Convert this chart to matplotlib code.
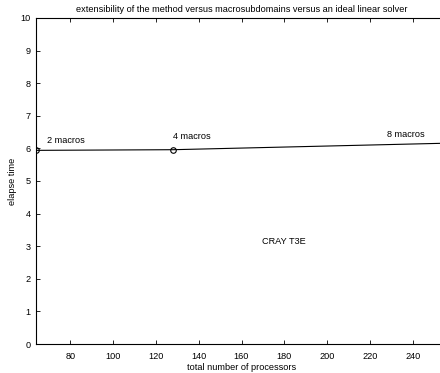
import numpy as np
import matplotlib
matplotlib.use("Agg")
import matplotlib.pyplot as plt

plt.rcParams['font.family'] = ['Liberation Sans', 'DejaVu Sans']

# data
procs = [64, 128, 256]
elapse = [5.94, 5.96, 6.16]
labels = ["2 macros", "4 macros", "8 macros"]
label_pos = [(69, 6.1), (128, 6.22), (228, 6.28)]
xticks = np.arange(80, 241, 20)
yticks = np.arange(0, 11, 1)

fig = plt.figure(figsize=(4.4, 3.73), dpi=100)
ax = fig.add_axes([36 / 440, 1 - 344 / 373, 411 / 440, 326 / 373])

ax.plot(procs, elapse, color='black', linewidth=0.8)
ax.plot(procs[:2], elapse[:2], 'o', mfc='none', mec='black', ms=4, mew=0.8)

for lab, (x, y) in zip(labels, label_pos):
    ax.text(x, y, lab, fontsize=6.6, ha='left', va='bottom')
ax.text(180, 3.15, "CRAY T3E", fontsize=6.6, ha='center', va='center')

ax.set_xlim(64, 256)
ax.set_ylim(0, 10)
ax.set_xticks(xticks)
ax.set_yticks(yticks)
ax.tick_params(direction='in', top=True, right=True, labelsize=6.6, length=3, width=0.6)
ax.tick_params(axis='x', pad=6)
ax.tick_params(axis='y', pad=4)
for s in ax.spines.values():
    s.set_linewidth(0.8)

ax.set_xlabel("total number of processors", fontsize=6.6, labelpad=1)
ax.set_ylabel("elapse time", fontsize=6.6, labelpad=2)
ax.set_title("extensibility of the method versus macrosubdomains versus an ideal linear solver",
             fontsize=6.6, pad=4)

fig.savefig("out.png", dpi=100)
